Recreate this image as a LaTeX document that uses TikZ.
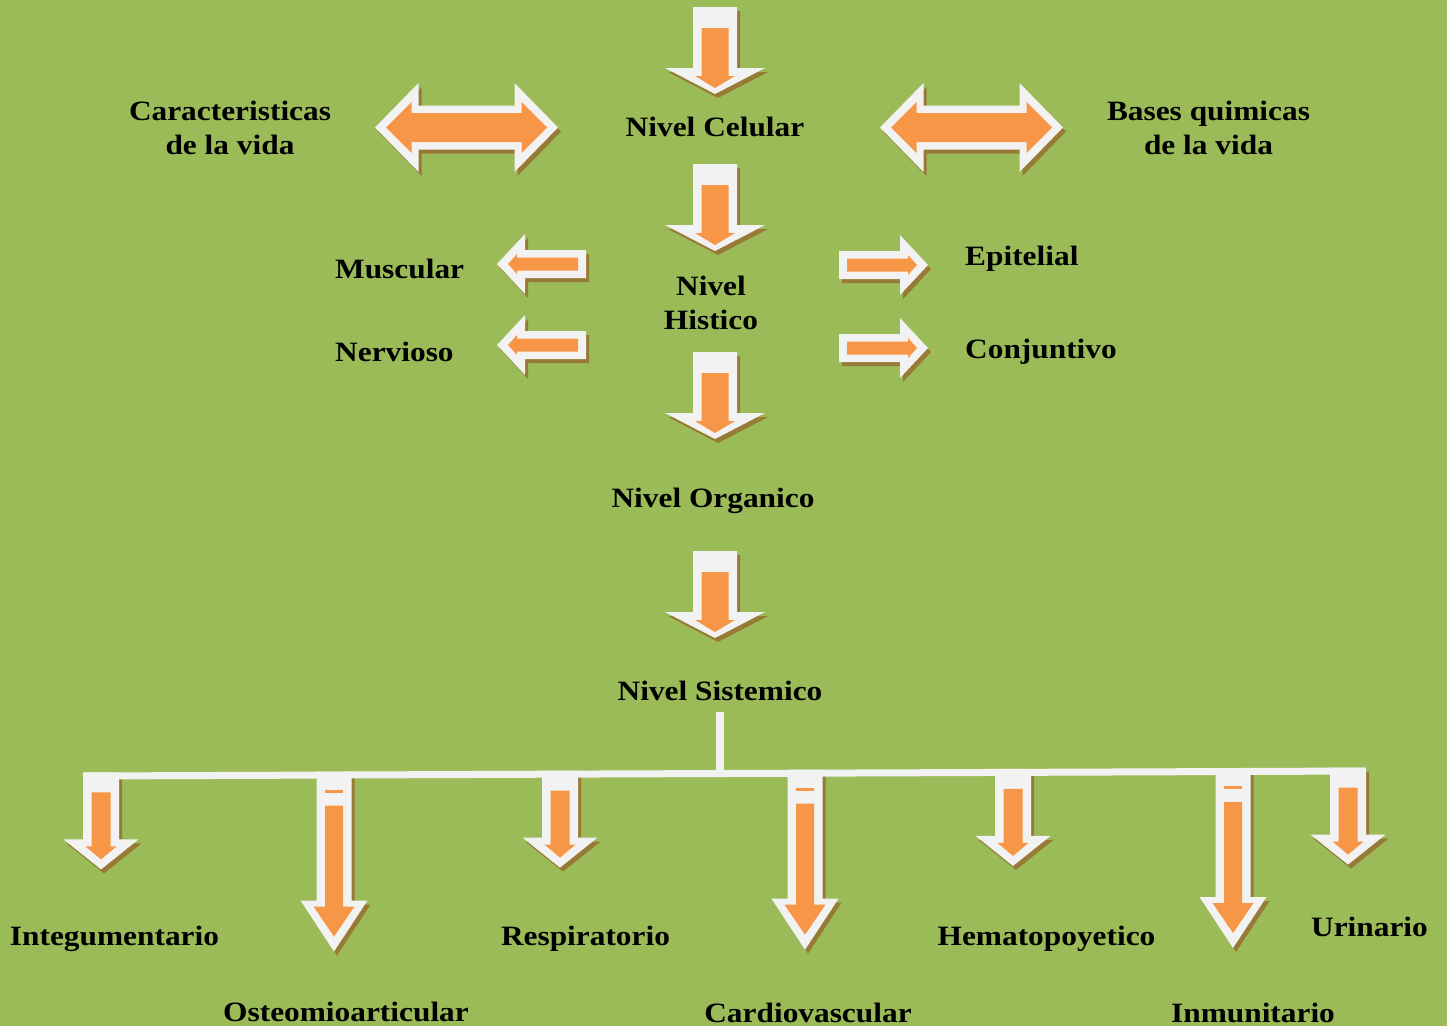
\documentclass[tikz,border=0pt]{standalone}
\usepackage{fontspec}
\setmainfont{Liberation Serif}[FakeStretch=1.12]
\usetikzlibrary{positioning}
\definecolor{leafGreen}{HTML}{9BBB59}
\definecolor{arrowOrange}{HTML}{F79646}
\definecolor{arrowWhite}{HTML}{F2F2F2}
\definecolor{shadowBrown}{HTML}{977A36}

% block arrow between two levels: centre x, top y
\newcommand{\leveldrop}[2]{%
  \begin{scope}[shift={(#1,#2)}]
    \fill[shadowBrown,shift={(3,4)}] (-22,0) -- (22,0) -- (22,61) -- (50,61) -- (0,87) -- (-50,61) -- (-22,61) -- cycle;
    \fill[arrowWhite] (-22,0) -- (22,0) -- (22,61) -- (50,61) -- (0,87) -- (-50,61) -- (-22,61) -- cycle;
    \fill[arrowOrange] (-13.5,21) -- (13.5,21) -- (13.5,69) -- (20,69) -- (0,81) -- (-20,69) -- (-13.5,69) -- cycle;
  \end{scope}}
% short system arrow
\newcommand{\shortdrop}[2]{%
  \begin{scope}[shift={(#1,#2)}]
    \fill[shadowBrown,shift={(3,4)}] (-18,0) -- (18,0) -- (18,67) -- (37.5,67) -- (0,97) -- (-37.5,67) -- (-18,67) -- cycle;
    \fill[arrowWhite] (-18,0) -- (18,0) -- (18,67) -- (37.5,67) -- (0,97) -- (-37.5,67) -- (-18,67) -- cycle;
    \fill[arrowOrange] (-9.5,20) -- (9.5,20) -- (9.5,74) -- (15.5,74) -- (0,87) -- (-15.5,74) -- (-9.5,74) -- cycle;
  \end{scope}}
% long system arrow
\newcommand{\longdrop}[2]{%
  \begin{scope}[shift={(#1,#2)}]
    \fill[shadowBrown,shift={(3,4)}] (-17.5,0) -- (17.5,0) -- (17.5,129) -- (33.5,129) -- (0,180) -- (-33.5,129) -- (-17.5,129) -- cycle;
    \fill[arrowWhite] (-17.5,0) -- (17.5,0) -- (17.5,129) -- (33.5,129) -- (0,180) -- (-33.5,129) -- (-17.5,129) -- cycle;
    \fill[arrowOrange] (-9,18) rectangle (9,21);
    \fill[arrowOrange] (-9,34) -- (9,34) -- (9,135) -- (20.5,135) -- (0,165) -- (-20.5,135) -- (-9,135) -- cycle;
  \end{scope}}
% small side arrow: tip x, centre y, 1 = left / -1 = right
\newcommand{\sidearrow}[3]{%
  \begin{scope}[shift={(#1,#2)}]
    \fill[shadowBrown,shift={(3,4)},xscale=#3] (0,0) -- (28,-30) -- (28,-14) -- (89,-14) -- (89,14) -- (28,14) -- (28,30) -- cycle;
    \fill[arrowWhite,xscale=#3] (0,0) -- (28,-30) -- (28,-14) -- (89,-14) -- (89,14) -- (28,14) -- (28,30) -- cycle;
    \fill[arrowOrange,xscale=#3] (11,0) -- (20,-10) -- (20,-6.5) -- (81,-6.5) -- (81,6.5) -- (20,6.5) -- (20,10) -- cycle;
  \end{scope}}
% double arrow: centre x, centre y
\newcommand{\twinarrow}[2]{%
  \begin{scope}[shift={(#1,#2)}]
    \fill[shadowBrown,shift={(3,4)}] (-91.5,0) -- (-48,-44.5) -- (-48,-22) -- (48,-22) -- (48,-44.5) -- (91.5,0) -- (48,44.5) -- (48,22) -- (-48,22) -- (-48,44.5) -- cycle;
    \fill[arrowWhite] (-91.5,0) -- (-48,-44.5) -- (-48,-22) -- (48,-22) -- (48,-44.5) -- (91.5,0) -- (48,44.5) -- (48,22) -- (-48,22) -- (-48,44.5) -- cycle;
    \fill[arrowOrange] (-80.5,0) -- (-55,-25.5) -- (-55,-14.5) -- (55,-14.5) -- (55,-25.5) -- (80.5,0) -- (55,25.5) -- (55,14.5) -- (-55,14.5) -- (-55,25.5) -- cycle;
  \end{scope}}

\begin{document}
\begin{tikzpicture}[x=1pt,y=-1pt,
  lbl/.style={font=\bfseries\fontsize{28}{34}\selectfont,inner sep=0pt,align=center,yshift=-3pt},
  branch/.style={draw=arrowWhite,line width=7pt}]
\fill[leafGreen] (0,0) rectangle (1447,1026);
\useasboundingbox (0,0) rectangle (1447,1026);

% levels
\leveldrop{715}{7}
\leveldrop{715}{164}
\leveldrop{715}{352}
\leveldrop{715}{551}
\twinarrow{466.5}{127.5}
\twinarrow{971.5}{127.5}
\sidearrow{497}{264}{1}
\sidearrow{497}{345}{1}
\sidearrow{928}{265}{-1}
\sidearrow{928}{348}{-1}

\node[lbl] (celular) at (715,124) {Nivel Celular};
\node[lbl] (vida) at (230,125) {Caracteristicas\\de la vida};
\node[lbl] (bases) at (1208.5,125) {Bases quimicas\\de la vida};
\node[lbl] (histico) at (711,300) {Nivel\\Histico};
\node[lbl,anchor=west] (muscular) at (335,266) {Muscular};
\node[lbl,anchor=west] (nervioso) at (335,349) {Nervioso};
\node[lbl,anchor=west] (epitelial) at (965,256) {Epitelial};
\node[lbl,anchor=west] (conjuntivo) at (965,349) {Conjuntivo};
\node[lbl] (organico) at (713,498) {Nivel Organico};
\node[lbl] (sistemico) at (720,688) {Nivel Sistemico};

% systems
\shortdrop{101}{772.4}
\longdrop{334}{771.5}
\shortdrop{560}{770.6}
\longdrop{805}{769.7}
\shortdrop{1013}{768.9}
\longdrop{1233}{768}
\shortdrop{1348}{767.6}

\coordinate (stemtop) at (720,712);
\coordinate (fork) at (720,773.5);
\coordinate (rowL) at (83,776);
\coordinate (rowR) at (1365,771);
\draw[branch] (rowL) -- (rowR);
\draw[branch,line width=8pt] (stemtop) -- (fork);

\node[lbl] (integ) at (114.5,936) {Integumentario};
\node[lbl] (osteo) at (346,1009) {Osteomioarticular};
\node[lbl] (resp) at (585.5,936) {Respiratorio};
\node[lbl] (cardio) at (808,1010) {Cardiovascular};
\node[lbl] (hemato) at (1046.5,936) {Hematopoyetico};
\node[lbl] (inmun) at (1253,1010) {Inmunitario};
\node[lbl] (urin) at (1369.5,924) {Urinario};
\end{tikzpicture}
\end{document}
